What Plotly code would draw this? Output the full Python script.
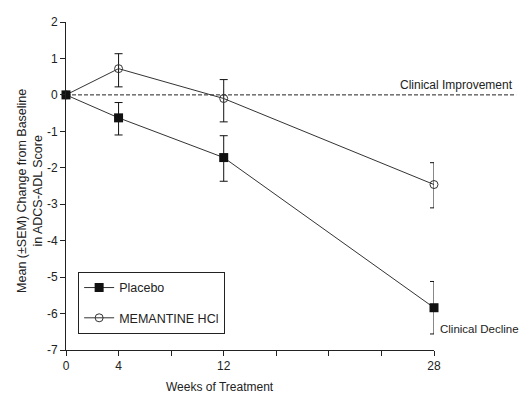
import plotly.graph_objects as go

weeks = [0, 4, 12, 28]
placebo_mean = [0, -0.63, -1.72, -5.84]
placebo_err_plus = [0, 0.42, 0.6, 0.72]
placebo_err_minus = [0, 0.47, 0.65, 0.72]
memantine_mean = [0, 0.72, -0.1, -2.46]
memantine_err_plus = [0, 0.41, 0.52, 0.6]
memantine_err_minus = [0, 0.5, 0.64, 0.64]

x_tickvals = [0, 4, 8, 12, 16, 20, 24, 28]
x_ticktext = ["0", "4", "", "12", "", "", "", "28"]
y_tickvals = [2, 1, 0, -1, -2, -3, -4, -5, -6, -7]
y_ticktext = ["2", "1", "0", "-1", "-2", "-3", "-4", "-5", "-6", "-7"]

FONT = "Liberation Sans, Arial, sans-serif"
INK = "#222222"

fig = go.Figure()

fig.add_trace(go.Scatter(
    x=weeks, y=memantine_mean, name="MEMANTINE HCl",
    mode="lines+markers",
    line=dict(color="#333333", width=1),
    marker=dict(symbol="circle-open", size=8, color="#333333", line=dict(width=1)),
    error_y=dict(type="data", symmetric=False, array=memantine_err_plus,
                 arrayminus=memantine_err_minus, color="#111111", thickness=1, width=4),
    cliponaxis=False, legendrank=2, legendgroup="g2",
))
fig.add_trace(go.Scatter(
    x=weeks, y=placebo_mean, name="Placebo",
    mode="lines+markers",
    line=dict(color="#333333", width=1),
    marker=dict(symbol="square", size=9, color="#111111"),
    error_y=dict(type="data", symmetric=False, array=placebo_err_plus,
                 arrayminus=placebo_err_minus, color="#111111", thickness=1, width=4),
    cliponaxis=False, legendrank=1, legendgroup="g1",
))

fig.add_shape(type="line", xref="paper", yref="y", x0=0, x1=1.223, y0=0, y1=0,
              line=dict(color="#222222", width=1, dash="4px,2px"), layer="below")

fig.add_annotation(text="Clinical Improvement", xref="paper", yref="y", x=1.22, y=0,
                   xanchor="right", yanchor="bottom", yshift=1, showarrow=False,
                   font=dict(family=FONT, size=12, color=INK))
fig.add_annotation(text="Clinical Decline", xref="x", yref="y", x=28, y=-6.42,
                   xanchor="left", yanchor="middle", xshift=4, showarrow=False,
                   font=dict(family=FONT, size=11.5, color=INK))
fig.add_annotation(text="Weeks of Treatment", xref="paper", yref="paper", x=0.418, y=0,
                   xanchor="center", yanchor="middle", yshift=-37, showarrow=False,
                   font=dict(family=FONT, size=12, color=INK))
fig.add_annotation(text="Mean (±SEM) Change from Baseline<br>in ADCS-ADL Score",
                   xref="paper", yref="paper", x=0, y=0.485, xshift=-36,
                   xanchor="center", yanchor="middle", textangle=-90, showarrow=False,
                   font=dict(family=FONT, size=12.5, color=INK))

fig.update_layout(
    width=528, height=398,
    margin=dict(l=66, r=94, t=22, b=48),
    paper_bgcolor="white", plot_bgcolor="white",
    font=dict(family=FONT, size=12, color=INK),
    showlegend=True,
    legend=dict(
        x=0.033, y=0.238, xanchor="left", yanchor="top",
        bgcolor="white", bordercolor="#222222", borderwidth=1,
        font=dict(family=FONT, size=12.5, color=INK),
        traceorder="grouped", tracegroupgap=11,
        itemwidth=30,
    ),
    xaxis=dict(
        range=[0, 28], showgrid=False, zeroline=False, automargin=False,
        showline=True, linecolor="#222222", linewidth=1,
        ticks="outside", ticklen=5, tickcolor="#222222",
        tickvals=x_tickvals, ticktext=x_ticktext,
        tickfont=dict(family=FONT, size=12),
    ),
    yaxis=dict(
        range=[-7, 2], showgrid=False, zeroline=False, automargin=False,
        showline=True, linecolor="#222222", linewidth=1,
        ticks="outside", ticklen=5, tickcolor="#222222",
        tickvals=y_tickvals, ticktext=y_ticktext,
        tickfont=dict(family=FONT, size=12),
    ),
)

fig.write_html(
    "out.html",
    config={"displayModeBar": False},
    post_script="document.body.style.margin='0';document.body.style.overflow='hidden';",
)
